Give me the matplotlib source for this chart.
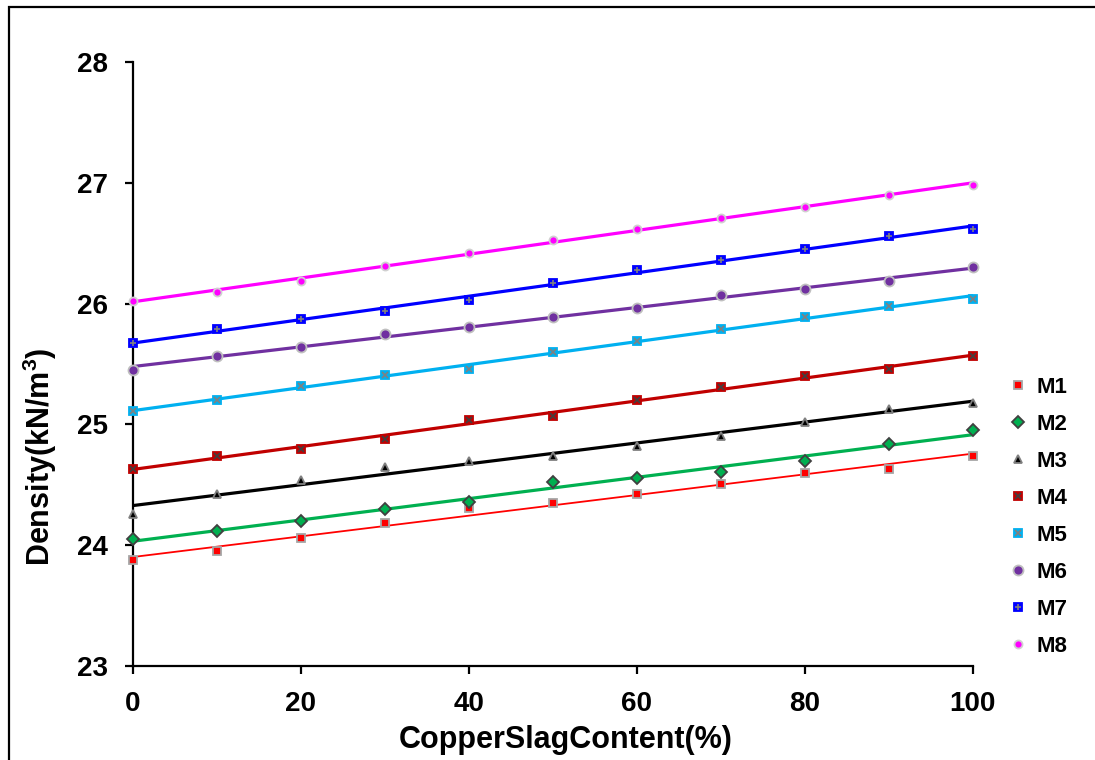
import numpy as np
import matplotlib
matplotlib.use("Agg")
import matplotlib.pyplot as plt
from matplotlib.patches import Rectangle

plt.rcParams['font.family'] = ['Liberation Sans', 'DejaVu Sans']
plt.rcParams['font.weight'] = 'bold'
plt.rcParams['mathtext.fontset'] = 'custom'
plt.rcParams['mathtext.rm'] = 'Liberation Sans:bold'
plt.rcParams['mathtext.bf'] = 'Liberation Sans:bold'

# Copper slag replacement levels (%)
slag = [0, 10, 20, 30, 40, 50, 60, 70, 80, 90, 100]

# Measured density (kN/m3) for each mix
m1 = [23.88, 23.95, 24.06, 24.18, 24.31, 24.35, 24.42, 24.51, 24.60, 24.63, 24.74]
m2 = [24.05, 24.12, 24.20, 24.30, 24.36, 24.52, 24.56, 24.61, 24.70, 24.84, 24.95]
m3 = [24.26, 24.42, 24.54, 24.65, 24.70, 24.74, 24.82, 24.90, 25.02, 25.13, 25.18]
m4 = [24.63, 24.74, 24.80, 24.88, 25.04, 25.07, 25.20, 25.31, 25.40, 25.46, 25.57]
m5 = [25.11, 25.20, 25.32, 25.41, 25.46, 25.60, 25.69, 25.79, 25.89, 25.98, 26.04]
m6 = [25.45, 25.57, 25.64, 25.75, 25.81, 25.89, 25.96, 26.07, 26.12, 26.19, 26.30]
m7 = [25.67, 25.79, 25.87, 25.94, 26.03, 26.17, 26.28, 26.36, 26.45, 26.56, 26.62]
m8 = [26.02, 26.10, 26.19, 26.31, 26.42, 26.53, 26.62, 26.71, 26.80, 26.90, 26.98]

names = ["M1", "M2", "M3", "M4", "M5", "M6", "M7", "M8"]
series = [m1, m2, m3, m4, m5, m6, m7, m8]

# (trend colour, trend width, marker, fill, edge, size, overlay marker, overlay colour)
styles = [
    ("#FF0000", 1.3, "s", "#FF0000", "#A6A6A6", 5.8, None, None),
    ("#00B050", 2.3, "D", "#00B050", "#404040", 6.2, None, None),
    ("#000000", 2.3, "^", "#000000", "#808080", 5.8, None, None),
    ("#C00000", 2.3, "s", "#C00000", "#C00000", 5.5, "x", "#404040"),
    ("#00B0F0", 2.3, "s", "#00B0F0", "#00B0F0", 5.5, "x", "#808080"),
    ("#7030A0", 2.3, "o", "#7030A0", "#BFBFBF", 7.2, None, None),
    ("#0000FF", 2.3, "s", "#0000FF", "#0000FF", 5.5, "+", "#808080"),
    ("#FF00FF", 2.3, "o", "#FF00FF", "#D0D0D0", 5.8, None, None),
]

fig = plt.figure(figsize=(10.95, 7.6), dpi=100)
ax = fig.add_axes([0.1215, 0.1237, 0.7668, 0.7947])

x = np.array(slag, dtype=float)
handles = []
for name, vals, st in zip(names, series, styles):
    lc, lw, mk, fc, ec, ms, ov, oc = st
    y = np.array(vals)
    k, b = np.polyfit(x, y, 1)
    xs = np.array([0.0, 100.0])
    ax.plot(xs, k * xs + b, color=lc, lw=lw, zorder=2, solid_capstyle='round')
    h1, = ax.plot(x, y, ls='none', marker=mk, ms=ms, mfc=fc, mec=ec, mew=1.3,
                  zorder=3, clip_on=False)
    if ov is not None:
        h2, = ax.plot(x, y, ls='none', marker=ov, ms=ms - 1.0, mec=oc, mew=1.2,
                      zorder=4, clip_on=False)
        handles.append((h1, h2))
    else:
        handles.append(h1)

ax.set_xlim(0, 100)
ax.set_ylim(23, 28)
ax.set_xticks([0, 20, 40, 60, 80, 100])
ax.set_yticks([23, 24, 25, 26, 27, 28])
ax.spines['top'].set_visible(False)
ax.spines['right'].set_visible(False)
for s in ('left', 'bottom'):
    ax.spines[s].set_linewidth(1.6)
ax.tick_params(axis='both', direction='out', length=6, width=1.6,
               labelsize=20)
ax.tick_params(axis='y', pad=12)
ax.tick_params(axis='x', pad=12)
for lab in ax.get_xticklabels() + ax.get_yticklabels():
    lab.set_fontweight('bold')

# Axis titles placed in figure coordinates
fig.text(566 / 1095, 1 - 748 / 760, "CopperSlagContent(%)", fontsize=22,
         fontweight='bold', ha='center', va='baseline')
fig.text(50 / 1095, 1 - 457 / 760, "Density(kN/m$\\mathbf{^3}$)", fontsize=22,
         fontweight='bold', rotation=90, rotation_mode='anchor',
         ha='center', va='baseline')

leg = fig.legend(handles, names, loc='center left',
                 bbox_to_anchor=(0.9132, 0.3195), frameon=False,
                 prop={'size': 16, 'weight': 'bold'}, handlelength=0.8,
                 handletextpad=0.45, labelspacing=0.72, borderaxespad=0)

# Outer frame around the chart area
fig.add_artist(Rectangle((9 / 1095, -0.1), 1.2, 1.1 - 7 / 760,
                         transform=fig.transFigure, fill=False,
                         edgecolor='black', lw=1.6, zorder=10))

fig.savefig("out.png", dpi=100)
